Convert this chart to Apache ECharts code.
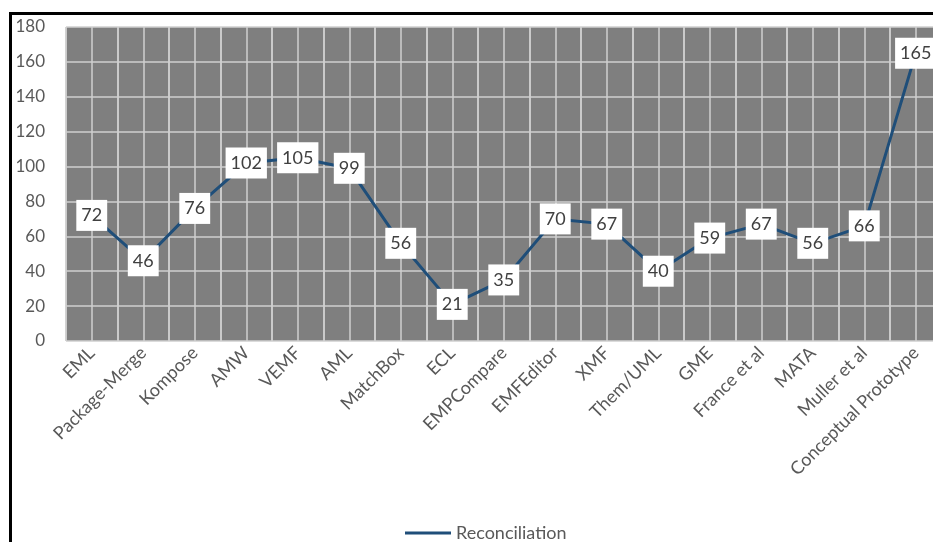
<!DOCTYPE html>
<html>
<head>
<meta charset="utf-8">
<script src="https://cdn.jsdelivr.net/npm/echarts@6/dist/echarts.min.js"></script>
<style>
  html, body { margin: 0; padding: 0; background: #fff; overflow: hidden; }
  #chart { width: 950px; height: 542px; }
</style>
</head>
<body>
<div id="chart"></div>
<script>
  const categories = ['EML', 'Package-Merge', 'Kompose', 'AMW', 'VEMF', 'AML', 'MatchBox', 'ECL',
    'EMPCompare', 'EMFEditor', 'XMF', 'Them/UML', 'GME', 'France et al', 'MATA', 'Muller et al',
    'Conceptual Prototype'];
  const reconciliation = [72, 46, 76, 102, 105, 99, 56, 21, 35, 70, 67, 40, 59, 67, 56, 66, 165];
  const seriesName = 'Reconciliation';

  // every category is split in two grid columns in the original
  const halfSlots = categories.flatMap(c => [c, c]);

  const font = 'Lato, "Open Sans", sans-serif';
  const gridColor = '#cfcfcf';

  let chart = echarts.init(document.getElementById('chart'));
  const option = {
    animation: false,
    textStyle: { fontFamily: font },
    graphic: [{
      type: 'rect',
      shape: { x: 10.5, y: 13.5, width: 1000, height: 600 },
      style: { fill: 'none', stroke: '#000', lineWidth: 3 },
      silent: true
    }],
    grid: {
      left: 66, top: 27, width: 875.5, height: 314,
      show: true, backgroundColor: '#7f7f7f', borderWidth: 0
    },
    legend: {
      data: [seriesName],
      left: 400, top: 519,
      icon: 'rect', itemWidth: 46, itemHeight: 3, itemGap: 2,
      textStyle: { color: '#595959', fontSize: 18, fontFamily: font }
    },
    xAxis: [
      {
        type: 'category',
        data: categories,
        boundaryGap: true,
        axisLine: { show: false },
        axisTick: { show: false },
        axisLabel: { rotate: 45, color: '#595959', fontSize: 18, margin: 9, interval: 0, fontFamily: font },
        splitLine: { show: true, lineStyle: { color: gridColor, width: 1.5 } }
      },
      {
        type: 'category',
        data: halfSlots,
        position: 'bottom',
        boundaryGap: true,
        axisLine: { show: false },
        axisTick: { show: false },
        axisLabel: { show: false },
        splitLine: { show: true, interval: 0, lineStyle: { color: gridColor, width: 1.5 } }
      }
    ],
    yAxis: {
      type: 'value',
      min: 0, max: 180, interval: 20,
      axisLine: { show: false },
      axisTick: { show: false },
      axisLabel: { color: '#595959', fontSize: 17, margin: 21, fontFamily: font },
      splitLine: { show: true, lineStyle: { color: gridColor, width: 1.5 } }
    },
    series: [{
      name: seriesName,
      type: 'line',
      xAxisIndex: 0,
      data: reconciliation,
      symbol: 'circle',
      symbolSize: 0.1,
      showSymbol: true,
      lineStyle: { color: '#1f4e79', width: 3 },
      itemStyle: { color: '#1f4e79' },
      label: {
        show: true,
        position: 'inside',
        backgroundColor: '#fff',
        color: '#404040',
        fontSize: 18,
        fontFamily: font,
        padding: [7, 5, 6, 5]
      }
    }]
  };
  chart.setOption(option);
</script>
</body>
</html>
